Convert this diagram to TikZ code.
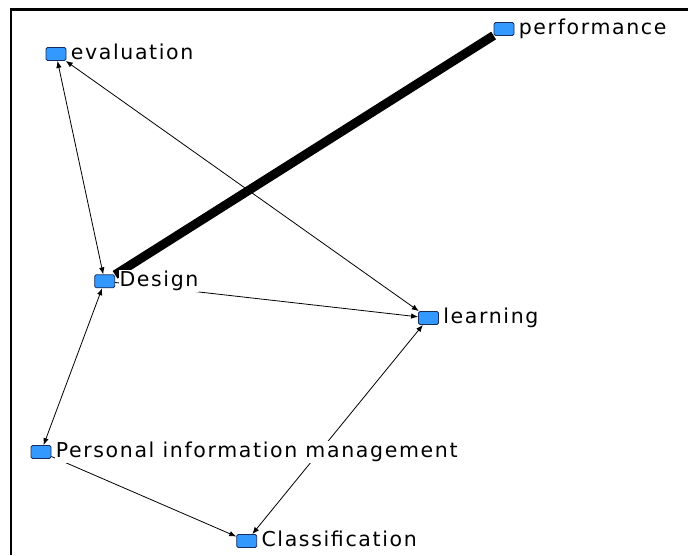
\documentclass[tikz,border=0pt]{standalone}
\usepackage{fontspec}
\setmainfont{DejaVu Sans}[LetterSpace=8]
\usetikzlibrary{arrows.meta}
\definecolor{termblue}{RGB}{51,153,255}
\definecolor{termedge}{RGB}{25,45,90}
\tikzstyle{term} = [rectangle, draw=termedge, fill=termblue, rounded corners=1.5pt,
    minimum width=20pt, minimum height=13pt, inner sep=0pt, line width=0.8pt]
\tikzstyle{tag} = [fill=white, inner sep=1pt, anchor=base west,
    font=\fontsize{20.5}{24}\selectfont]

\begin{document}
\begin{tikzpicture}[->,>={Latex[length=7pt,width=5.5pt]},x=1pt,y=-1pt,
                    line width=0.8pt]
  \useasboundingbox (0,0) rectangle (688,555);
  % frame
  \draw[-,line width=2.5pt] (11,555) -- (11,9.5) -- (688,9.5);

  \node[term] (perf)   at (504,29)    {};
  \node[term] (eval)   at (56,54)     {};
  \node[term] (design) at (104.7,281.3) {};
  \node[term] (learn)  at (428.5,318) {};
  \node[term] (pim)    at (41,452)    {};
  \node[term] (class)  at (246.7,541) {};

  \path
  (perf) edge [-,line width=9pt] (design)
  (eval) edge [<->] (design)
  (eval) edge [<->] (learn)
  (design) edge (learn)
  (design) edge [<->] (pim)
  (learn) edge [<->] (class)
  (pim) edge (class);

  \node[tag] (perftag)   at ([xshift=3pt,yshift=-5.5pt]perf.east)   {performance};
  \node[tag] (evaltag)   at ([xshift=3pt,yshift=-5.5pt]eval.east)   {evaluation};
  \node[tag] (designtag) at ([xshift=3pt,yshift=-5.5pt]design.east) {Design};
  \node[tag] (learntag)  at ([xshift=3pt,yshift=-5.5pt]learn.east)  {learning};
  \node[tag] (pimtag)    at ([xshift=3pt,yshift=-5.5pt]pim.east)    {Personal information management};
  \node[tag] (classtag)  at ([xshift=3pt,yshift=-5.5pt]class.east)  {Classification};
\end{tikzpicture}
\end{document}
